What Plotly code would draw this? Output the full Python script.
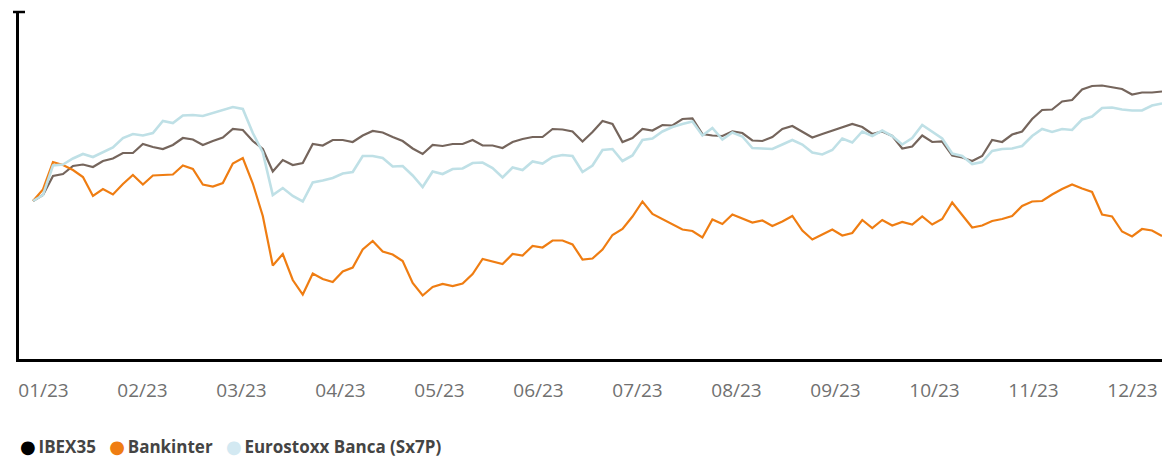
import plotly.graph_objects as go

# ---- data (rebased index, first session = 100) ----
months = ["01/23", "02/23", "03/23", "04/23", "05/23", "06/23",
          "07/23", "08/23", "09/23", "10/23", "11/23", "12/23"]

ibex = [100.0, 101.2, 105.0, 105.4, 107.0, 107.3, 106.8, 108.0, 108.5, 109.6,
        109.6, 111.4, 110.8, 110.4, 111.2, 112.6, 112.3, 111.2, 112.0, 112.7,
        114.4, 114.2, 112.0, 110.4, 105.9, 108.2, 107.2, 107.6, 111.4, 111.1,
        112.2, 112.2, 111.8, 113.1, 114.0, 113.7, 112.8, 112.0, 110.5, 109.4,
        111.2, 111.0, 111.4, 111.4, 112.2, 111.1, 111.1, 110.6, 111.8, 112.4,
        112.8, 112.8, 114.4, 114.3, 113.9, 111.9, 113.8, 116.0, 115.4, 111.8,
        112.6, 114.4, 114.1, 115.2, 115.1, 116.4, 116.5, 113.4, 113.1, 113.0,
        113.9, 113.6, 112.1, 112.0, 112.8, 114.4, 115.0, 113.8, 112.7, 113.4,
        114.1, 114.8, 115.4, 114.8, 113.4, 113.9, 113.0, 110.5, 110.9, 113.1,
        111.8, 111.9, 109.1, 108.7, 108.0, 109.0, 112.2, 111.8, 113.3, 113.9,
        116.4, 118.2, 118.3, 119.9, 120.2, 122.3, 123.0, 123.1, 122.8, 122.4,
        121.3, 121.7, 121.7, 121.9]

bankinter = [100.0, 102.3, 107.8, 107.2, 106.2, 104.8, 101.0, 102.4, 101.3, 103.4,
             105.2, 103.3, 105.1, 105.2, 105.3, 107.1, 106.4, 103.3, 102.9, 103.6,
             107.5, 108.6, 103.5, 97.0, 87.1, 89.4, 84.2, 81.3, 85.5, 84.4,
             83.8, 85.9, 86.7, 90.3, 92.0, 89.9, 89.3, 88.0, 83.6, 81.1,
             82.8, 83.4, 83.0, 83.5, 85.4, 88.4, 87.9, 87.4, 89.4, 89.1,
             91.0, 90.7, 92.1, 92.1, 91.3, 88.3, 88.5, 90.3, 93.2, 94.4,
             96.9, 99.9, 97.4, 96.4, 95.4, 94.3, 94.0, 92.7, 96.3, 95.4,
             97.3, 96.5, 95.7, 96.1, 95.0, 95.9, 97.0, 94.1, 92.3, 93.3,
             94.3, 93.1, 93.6, 96.2, 94.6, 96.2, 95.1, 95.8, 95.3, 96.9,
             95.3, 96.4, 99.7, 97.2, 94.7, 95.1, 96.0, 96.4, 97.0, 99.0,
             99.9, 100.0, 101.3, 102.4, 103.3, 102.5, 101.8, 97.3, 96.9, 93.9,
             92.9, 94.4, 94.1, 93.0]

sx7p = [100.0, 101.2, 107.1, 107.3, 108.5, 109.4, 108.8, 109.7, 110.7, 112.6,
        113.4, 113.1, 113.6, 116.0, 115.6, 117.1, 117.2, 117.0, 117.6, 118.2,
        118.8, 118.4, 113.6, 109.7, 101.2, 102.6, 101.0, 99.9, 103.7, 104.1,
        104.6, 105.5, 105.8, 109.0, 109.0, 108.6, 106.9, 107.0, 105.1, 102.8,
        105.9, 105.4, 106.4, 106.5, 107.6, 107.7, 106.6, 104.7, 106.7, 106.2,
        107.9, 107.5, 108.8, 109.2, 109.0, 105.8, 107.1, 110.2, 110.4, 108.0,
        109.1, 112.2, 112.5, 113.9, 114.8, 115.4, 115.9, 113.1, 114.6, 112.3,
        113.7, 112.9, 110.6, 110.5, 110.4, 111.3, 112.2, 111.3, 109.7, 109.3,
        110.2, 112.5, 111.7, 113.9, 113.0, 114.1, 113.0, 111.3, 112.6, 115.2,
        113.9, 112.5, 109.5, 109.0, 107.4, 107.8, 110.0, 110.4, 110.5, 111.0,
        113.0, 114.4, 113.8, 114.4, 114.2, 116.3, 116.9, 118.6, 118.7, 118.3,
        118.1, 118.1, 119.1, 119.5]

series_names = ["IBEX35", "Bankinter", "Eurostoxx Banca (Sx7P)"]
line_colors = ["#75655c", "#ef7d12", "#bfe0e6"]
dot_colors = ["#000000", "#ef7d12", "#d3e9f2"]
line_widths = [2.2, 2.2, 2.6]

n = len(ibex)
assert len(bankinter) == n and len(sx7p) == n
x = list(range(n))

# ---- layout geometry ----
W, H = 1162, 458
L, R, T, B = 19, 0, 12, 99
plot_w = W - L - R
first_off = 14          # gap between y axis and first session
step = (plot_w - first_off) / (n - 1)
x_range = [-first_off / step, n - 1]
label_off, label_gap = 24.5, 99
tickvals = [(label_off - first_off + label_gap * j) / step for j in range(len(months))]

fig = go.Figure()
for name, vals, col, lw in zip(series_names, [ibex, bankinter, sx7p], line_colors, line_widths):
    fig.add_trace(go.Scatter(x=x, y=vals, mode="lines", name=name,
                             line=dict(color=col, width=lw), showlegend=False,
                             hoverinfo="skip"))

legend_text = "&nbsp;&nbsp;&nbsp;".join(
    f'<span style="color:{c};font-family:DejaVu Sans;font-size:18px">●</span>'
    f'\u2009<b>{nm}</b>' for nm, c in zip(series_names, dot_colors))

fig.update_layout(
    width=W, height=H,
    margin=dict(l=L, r=R, t=T, b=B, pad=0),
    paper_bgcolor="white", plot_bgcolor="white",
    showlegend=False,
    xaxis=dict(range=x_range, showgrid=False, zeroline=False,
               showline=True, linecolor="#000000", linewidth=2.5,
               tickmode="array", tickvals=tickvals, ticktext=months,
               ticks="", ticklabelstandoff=12,
               tickfont=dict(family="Open Sans", size=19, color="#707070")),
    yaxis=dict(range=[68.4, 137.8], showgrid=False, zeroline=False,
               showline=True, linecolor="#000000", linewidth=2.5,
               showticklabels=False, ticks=""),
    shapes=[dict(type="line", xref="paper", yref="paper",
                 x0=-6 / plot_w, x1=6 / plot_w, y0=1, y1=1,
                 line=dict(color="#000000", width=2.5))],
    annotations=[dict(text=legend_text, xref="paper", yref="paper",
                      x=-1 / plot_w, y=-(446 - (H - B)) / (H - T - B),
                      xanchor="left", yanchor="middle", showarrow=False,
                      font=dict(family="Open Sans", size=17, color="#444444"))],
)

fig.write_html("out.html",
               config={"displayModeBar": False},
               post_script="document.body.style.margin='0';document.body.style.padding='0';"
                           "document.body.style.overflow='hidden';")
